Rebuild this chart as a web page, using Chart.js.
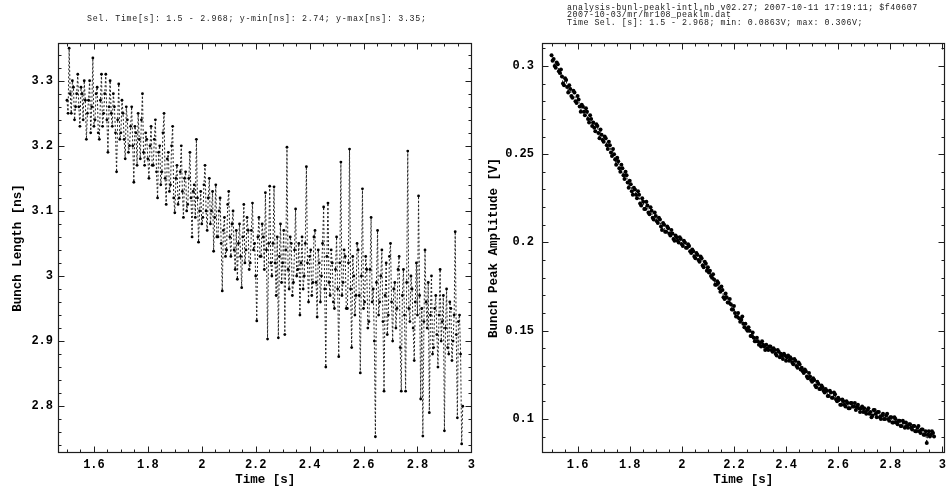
<!DOCTYPE html>
<html><head><meta charset="utf-8">
<script src="https://cdn.jsdelivr.net/npm/chart.js@4.4.1/dist/chart.umd.min.js"></script>
<style>
html,body{margin:0;padding:0;background:#fff;}
#wrap{position:relative;width:951px;height:489px;overflow:hidden;background:#fff;}
canvas{position:absolute;top:0;}
.hdr{position:absolute;font-family:'Liberation Mono',monospace;font-size:8.3px;color:#222;white-space:pre;line-height:7.8px;}
</style></head><body>
<div id="wrap">
<canvas id="c1" width="480" height="489" style="left:0px"></canvas>
<canvas id="c2" width="471" height="489" style="left:480px"></canvas>
<div class="hdr" style="left:87px;top:15px;letter-spacing:0.68px;">Sel. Time[s]: 1.5 - 2.968; y-min[ns]: 2.74; y-max[ns]: 3.35;</div>
<div class="hdr" style="left:567px;top:3.5px;letter-spacing:0.5px;">analysis-bunl-peakl-intl.nb v02.27; 2007-10-11 17:19:11; $f40607
2007-10-03/mr/mr108_peaklm.dat
Time Sel. [s]: 1.5 - 2.968; min: 0.0863V; max: 0.306V;</div>
</div>
<script>
// ---- data ----
const times = [
1.5,1.504,1.508,1.512,1.516,1.52,1.524,1.528,1.532,1.536,
1.54,1.544,1.548,1.552,1.556,1.56,1.564,1.568,1.572,1.576,
1.58,1.584,1.588,1.592,1.596,1.6,1.604,1.608,1.612,1.616,
1.62,1.624,1.628,1.632,1.636,1.64,1.644,1.648,1.652,1.656,
1.66,1.664,1.668,1.672,1.676,1.68,1.684,1.688,1.692,1.696,
1.7,1.704,1.708,1.712,1.716,1.72,1.724,1.728,1.732,1.736,
1.74,1.744,1.748,1.752,1.756,1.76,1.764,1.768,1.772,1.776,
1.78,1.784,1.788,1.792,1.796,1.8,1.804,1.808,1.812,1.816,
1.82,1.824,1.828,1.832,1.836,1.84,1.844,1.848,1.852,1.856,
1.86,1.864,1.868,1.872,1.876,1.88,1.884,1.888,1.892,1.896,
1.9,1.904,1.908,1.912,1.916,1.92,1.924,1.928,1.932,1.936,
1.94,1.944,1.948,1.952,1.956,1.96,1.964,1.968,1.972,1.976,
1.98,1.984,1.988,1.992,1.996,2,2.004,2.008,2.012,2.016,
2.02,2.024,2.028,2.032,2.036,2.04,2.044,2.048,2.052,2.056,
2.06,2.064,2.068,2.072,2.076,2.08,2.084,2.088,2.092,2.096,
2.1,2.104,2.108,2.112,2.116,2.12,2.124,2.128,2.132,2.136,
2.14,2.144,2.148,2.152,2.156,2.16,2.164,2.168,2.172,2.176,
2.18,2.184,2.188,2.192,2.196,2.2,2.204,2.208,2.212,2.216,
2.22,2.224,2.228,2.232,2.236,2.24,2.244,2.248,2.252,2.256,
2.26,2.264,2.268,2.272,2.276,2.28,2.284,2.288,2.292,2.296,
2.3,2.304,2.308,2.312,2.316,2.32,2.324,2.328,2.332,2.336,
2.34,2.344,2.348,2.352,2.356,2.36,2.364,2.368,2.372,2.376,
2.38,2.384,2.388,2.392,2.396,2.4,2.404,2.408,2.412,2.416,
2.42,2.424,2.428,2.432,2.436,2.44,2.444,2.448,2.452,2.456,
2.46,2.464,2.468,2.472,2.476,2.48,2.484,2.488,2.492,2.496,
2.5,2.504,2.508,2.512,2.516,2.52,2.524,2.528,2.532,2.536,
2.54,2.544,2.548,2.552,2.556,2.56,2.564,2.568,2.572,2.576,
2.58,2.584,2.588,2.592,2.596,2.6,2.604,2.608,2.612,2.616,
2.62,2.624,2.628,2.632,2.636,2.64,2.644,2.648,2.652,2.656,
2.66,2.664,2.668,2.672,2.676,2.68,2.684,2.688,2.692,2.696,
2.7,2.704,2.708,2.712,2.716,2.72,2.724,2.728,2.732,2.736,
2.74,2.744,2.748,2.752,2.756,2.76,2.764,2.768,2.772,2.776,
2.78,2.784,2.788,2.792,2.796,2.8,2.804,2.808,2.812,2.816,
2.82,2.824,2.828,2.832,2.836,2.84,2.844,2.848,2.852,2.856,
2.86,2.864,2.868,2.872,2.876,2.88,2.884,2.888,2.892,2.896,
2.9,2.904,2.908,2.912,2.916,2.92,2.924,2.928,2.932,2.936,
2.94,2.944,2.948,2.952,2.956,2.96,2.964,2.968
];
const bunchLength = [
3.27,3.25,3.35,3.28,3.25,3.30,3.29,3.24,3.26,3.28,
3.31,3.26,3.23,3.29,3.28,3.24,3.30,3.27,3.21,3.25,
3.27,3.30,3.22,3.26,3.335,3.23,3.24,3.28,3.29,3.22,
3.21,3.27,3.31,3.23,3.25,3.28,3.31,3.24,3.19,3.26,
3.30,3.25,3.23,3.28,3.26,3.22,3.16,3.24,3.295,3.21,
3.22,3.27,3.25,3.21,3.18,3.26,3.24,3.19,3.20,3.23,
3.26,3.20,3.144,3.23,3.22,3.17,3.25,3.21,3.18,3.24,
3.28,3.19,3.17,3.22,3.21,3.18,3.15,3.20,3.23,3.17,
3.17,3.21,3.24,3.16,3.12,3.19,3.20,3.14,3.16,3.22,
3.25,3.15,3.11,3.18,3.19,3.13,3.14,3.20,3.23,3.12,
3.097,3.15,3.17,3.11,3.12,3.16,3.20,3.13,3.09,3.15,
3.16,3.10,3.11,3.15,3.19,3.12,3.06,3.13,3.14,3.09,
3.21,3.12,3.052,3.10,3.13,3.08,3.09,3.14,3.17,3.10,
3.07,3.12,3.15,3.08,3.10,3.13,3.038,3.09,3.14,3.06,
3.06,3.10,3.12,3.05,2.977,3.07,3.09,3.03,3.04,3.11,
3.13,3.06,3.03,3.08,3.10,3.04,3.01,3.07,2.995,3.05,
3.08,3.03,2.982,3.06,3.11,3.02,3.04,3.09,3.07,3.01,
3.02,3.07,3.112,3.04,3.05,3.00,2.931,3.06,3.09,3.03,
3.03,3.08,3.06,3.01,3.128,3.04,2.903,3.05,3.138,3.02,
3.00,3.05,3.137,3.02,2.97,3.06,2.905,3.03,3.08,2.99,
3.02,3.07,2.91,3.04,3.198,3.01,2.98,3.06,3.05,2.97,
2.99,3.04,3.103,3.00,3.01,3.05,2.94,3.02,3.06,2.98,
3.00,3.05,3.168,3.02,2.96,3.03,3.04,2.97,2.99,3.06,
3.07,2.99,2.937,3.04,3.02,2.96,3.00,3.05,3.106,2.98,
2.86,3.03,3.112,2.99,2.97,3.04,3.02,2.96,2.95,3.01,
3.06,2.98,2.876,3.02,3.175,2.97,2.99,3.04,3.03,2.95,
2.95,3.02,3.195,2.98,2.89,3.03,3.00,2.94,2.97,3.05,
3.04,2.97,2.851,3.00,3.134,2.95,2.96,3.03,3.01,2.92,
2.93,3.01,3.09,2.96,2.98,2.90,2.753,2.99,3.07,2.94,
2.96,3.00,3.04,2.93,2.823,2.97,3.02,2.91,2.94,3.03,
3.05,2.96,2.90,2.98,2.99,2.92,2.95,3.01,3.03,2.89,
2.823,2.97,3.01,2.94,2.823,2.99,3.192,2.95,2.93,3.00,
2.98,2.92,2.87,2.96,3.02,2.94,3.123,2.97,2.811,2.95,
2.754,2.93,3.04,2.96,2.92,2.99,2.79,2.94,3.00,2.88,
2.89,2.95,2.97,2.91,2.86,2.94,3.01,2.90,2.93,2.97,
2.762,2.92,2.98,2.89,2.88,2.96,2.95,2.87,2.90,2.94,
3.068,2.91,2.782,2.93,2.94,2.88,2.742,2.80
];
const peakAmplitude = [
0.306,0.303,0.304,0.300,0.299,0.302,0.301,0.297,0.296,0.298,
0.294,0.290,0.289,0.293,0.292,0.288,0.285,0.289,0.287,0.283,
0.282,0.286,0.285,0.280,0.279,0.283,0.281,0.277,0.274,0.278,
0.277,0.274,0.272,0.276,0.274,0.270,0.268,0.272,0.270,0.266,
0.268,0.265,0.263,0.267,0.266,0.262,0.259,0.264,0.261,0.258,
0.257,0.260,0.259,0.255,0.253,0.257,0.255,0.251,0.249,0.253,
0.250,0.247,0.244,0.248,0.246,0.242,0.240,0.244,0.242,0.238,
0.236,0.240,0.238,0.234,0.231,0.235,0.233,0.229,0.227,0.231,
0.230,0.227,0.225,0.229,0.227,0.222,0.221,0.225,0.223,0.219,
0.219,0.223,0.221,0.217,0.216,0.220,0.218,0.214,0.213,0.217,
0.215,0.212,0.211,0.214,0.213,0.209,0.207,0.211,0.210,0.206,
0.206,0.209,0.208,0.205,0.204,0.207,0.205,0.202,0.201,0.204,
0.203,0.201,0.200,0.203,0.202,0.199,0.198,0.201,0.200,0.197,
0.197,0.199,0.198,0.195,0.194,0.196,0.195,0.192,0.191,0.194,
0.193,0.190,0.189,0.192,0.191,0.187,0.186,0.189,0.188,0.184,
0.186,0.183,0.184,0.181,0.180,0.182,0.179,0.176,0.176,0.178,
0.177,0.174,0.172,0.175,0.173,0.169,0.168,0.171,0.169,0.166,
0.166,0.168,0.165,0.162,0.162,0.164,0.160,0.158,0.158,0.160,
0.157,0.155,0.156,0.158,0.154,0.152,0.154,0.151,0.150,0.152,
0.150,0.147,0.147,0.149,0.146,0.144,0.144,0.146,0.144,0.142,
0.143,0.141,0.144,0.142,0.141,0.139,0.142,0.140,0.139,0.141,
0.141,0.139,0.138,0.140,0.139,0.137,0.136,0.139,0.138,0.135,
0.137,0.136,0.134,0.137,0.136,0.133,0.135,0.136,0.133,0.135,
0.134,0.132,0.131,0.134,0.133,0.130,0.129,0.132,0.131,0.128,
0.129,0.127,0.126,0.128,0.127,0.124,0.123,0.126,0.124,0.122,
0.121,0.123,0.122,0.119,0.118,0.121,0.120,0.117,0.117,0.119,
0.118,0.116,0.115,0.117,0.116,0.113,0.113,0.116,0.115,0.112,
0.112,0.115,0.114,0.111,0.110,0.112,0.111,0.108,0.108,0.111,
0.110,0.108,0.107,0.110,0.109,0.106,0.106,0.109,0.109,0.107,
0.107,0.109,0.105,0.107,0.108,0.106,0.104,0.106,0.107,0.104,
0.106,0.104,0.103,0.105,0.106,0.103,0.104,0.101,0.102,0.105,
0.105,0.103,0.101,0.104,0.104,0.101,0.100,0.102,0.103,0.100,
0.100,0.102,0.103,0.100,0.099,0.101,0.101,0.098,0.098,0.101,
0.100,0.098,0.097,0.099,0.099,0.096,0.096,0.099,0.098,0.095,
0.098,0.096,0.095,0.097,0.097,0.095,0.094,0.096,0.096,0.093,
0.093,0.095,0.096,0.093,0.092,0.094,0.094,0.091,0.091,0.093,
0.0863,0.091,0.093,0.090,0.091,0.093,0.092,0.090
];
const xTickVals = [1.6,1.8,2,2.2,2.4,2.6,2.8,3];
const xTickLabels = ['1.6','1.8','2','2.2','2.4','2.6','2.8','3'];
const xMinorVals = [1.5,1.55,1.65,1.7,1.75,1.85,1.9,1.95,2.05,2.1,2.15,2.25,2.3,2.35,2.45,2.5,2.55,2.65,2.7,2.75,2.85,2.9,2.95];
const yLeftTickVals = [2.8,2.9,3,3.1,3.2,3.3];
const yLeftTickLabels = ['2.8','2.9','3','3.1','3.2','3.3'];
const yLeftMinorVals = [2.74,2.76,2.78,2.82,2.84,2.86,2.88,2.92,2.94,2.96,2.98,3.02,3.04,3.06,3.08,3.12,3.14,3.16,3.18,3.22,3.24,3.26,3.28,3.32,3.34];
const yRightTickVals = [0.1,0.15,0.2,0.25,0.3];
const yRightTickLabels = ['0.1','0.15','0.2','0.25','0.3'];
const yRightMinorVals = [0.09,0.11,0.12,0.13,0.14,0.16,0.17,0.18,0.19,0.21,0.22,0.23,0.24,0.26,0.27,0.28,0.29,0.31];

// ---- frame with inward ticks ----
const frameTicks = {
  id: 'frameTicks',
  afterDatasetsDraw(chart, args, o) {
    const {ctx, chartArea: a} = chart;
    const xs = chart.scales.x, ys = chart.scales.y;
    const L = Math.round(a.left) + 0.5, R = Math.round(a.right) - 0.5;
    const T = Math.round(a.top) + 0.5, B = Math.round(a.bottom) - 0.5;
    ctx.save();
    ctx.strokeStyle = '#1e1e1e';
    ctx.lineWidth = 1;
    ctx.beginPath();
    const xt = (vals, len) => vals.forEach(v => {
      const p = Math.round(xs.getPixelForValue(v)) + 0.5;
      ctx.moveTo(p, B); ctx.lineTo(p, B - len);
      ctx.moveTo(p, T); ctx.lineTo(p, T + len);
    });
    const yt = (vals, len) => vals.forEach(v => {
      const p = Math.round(ys.getPixelForValue(v)) + 0.5;
      ctx.moveTo(L, p); ctx.lineTo(L + len, p);
      ctx.moveTo(R, p); ctx.lineTo(R - len, p);
    });
    xt(o.xMajor, 6); xt(o.xMinor, 3);
    yt(o.yMajor, 6); yt(o.yMinor, 3);
    ctx.stroke();
    ctx.lineWidth = 1.2;
    ctx.strokeRect(L, T, R - L, B - T);
    ctx.restore();
  }
};

const monoTick = {family: "'Liberation Mono', monospace", size: 12, weight: 'bold'};
const monoTitle = {family: "'Liberation Mono', monospace", size: 12.5, weight: 'bold'};

function makeChart(id, ys, c) {
  return new Chart(document.getElementById(id), {
    type: 'line',
    data: {datasets: [{
      data: times.map((t, i) => ({x: t, y: ys[i]})),
      borderColor: '#222', borderWidth: 1, borderDash: [2, 2],
      pointRadius: c.pr, pointBackgroundColor: '#000', pointBorderWidth: 0,
      pointHoverRadius: 0, tension: 0, fill: false
    }]},
    options: {
      responsive: false, animation: false, devicePixelRatio: 1,
      layout: {padding: {top: 43, right: c.padR, left: 0, bottom: 0}},
      plugins: {
        legend: {display: false}, tooltip: {enabled: false},
        frameTicks: {xMajor: xTickVals, xMinor: xMinorVals, yMajor: c.yTicks, yMinor: c.yMinor}
      },
      scales: {
        x: {
          type: 'linear', min: c.xmin, max: c.xmax,
          afterFit(s) { s.height = 36; },
          afterBuildTicks(s) { s.ticks = xTickVals.map(v => ({value: v})); },
          grid: {display: false, drawTicks: false}, border: {display: false},
          ticks: {autoSkip: false, maxRotation: 0, padding: 5, color: '#000', font: monoTick,
                  callback: (v, i) => xTickLabels[i]},
          title: {display: true, text: 'Time [s]', color: '#000', font: monoTitle, padding: {top: 0, bottom: 2}}
        },
        y: {
          type: 'linear', min: c.ymin, max: c.ymax,
          afterFit(s) { s.width = c.yw; },
          afterBuildTicks(s) { s.ticks = c.yTicks.map(v => ({value: v})); },
          grid: {display: false, drawTicks: false}, border: {display: false},
          ticks: {autoSkip: false, padding: c.lp, color: '#000', font: monoTick,
                  callback: (v, i) => c.yLabels[i]},
          title: {display: true, text: c.ytitle, color: '#000', font: monoTitle, padding: {top: c.tp, bottom: 0}}
        }
      }
    },
    plugins: [frameTicks]
  });
}

makeChart('c1', bunchLength, {
  pr: 1.4, padR: 7, xmin: 1.4667, xmax: 3.0037, ymin: 2.728, ymax: 3.358,
  yw: 58, lp: 5, tp: 10, yTicks: yLeftTickVals, yLabels: yLeftTickLabels, yMinor: yLeftMinorVals,
  ytitle: 'Bunch Length [ns]'
});
makeChart('c2', peakAmplitude, {
  pr: 2.0, padR: 2, xmin: 1.4634, xmax: 3.0086, ymin: 0.0807, ymax: 0.313,
  yw: 62, lp: 8, tp: 6, yTicks: yRightTickVals, yLabels: yRightTickLabels, yMinor: yRightMinorVals,
  ytitle: 'Bunch Peak Amplitude [V]'
});
</script>
</body></html>
